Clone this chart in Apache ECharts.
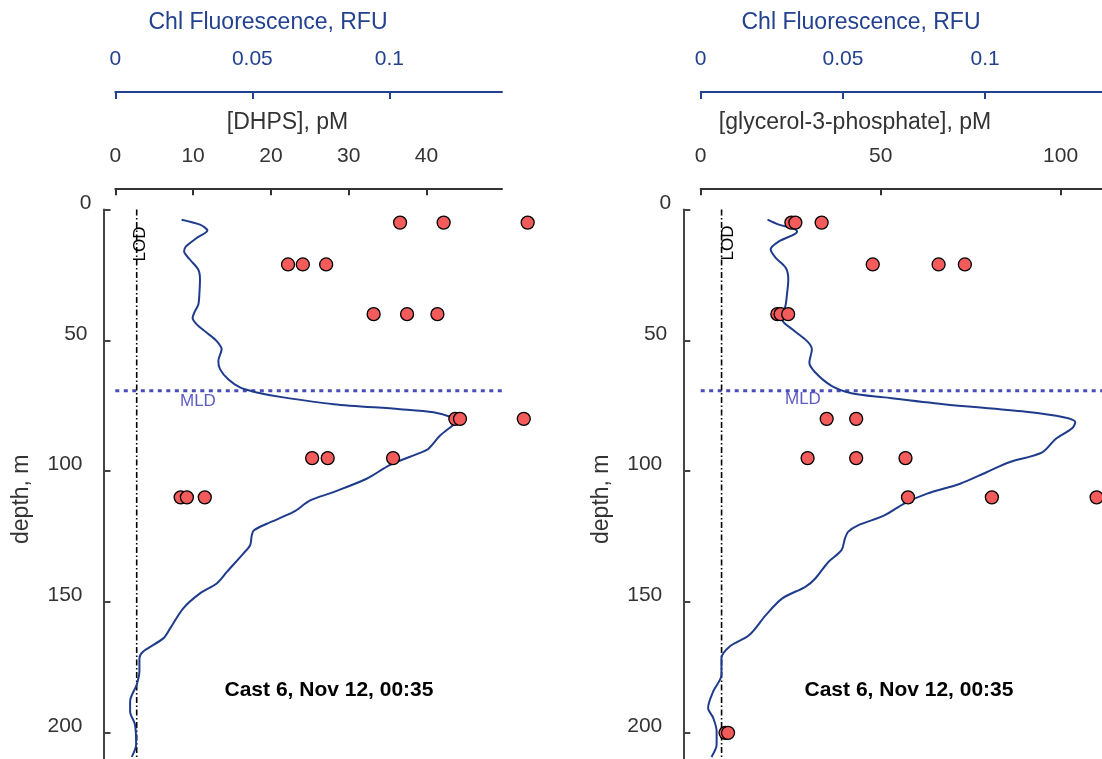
<!DOCTYPE html>
<html>
<head>
<meta charset="utf-8">
<script src="https://cdn.jsdelivr.net/npm/echarts@6/dist/echarts.min.js"></script>
<style>
  html, body { margin: 0; padding: 0; background: #fff; }
  #chart { width: 1102px; height: 759px; }
</style>
</head>
<body>
<div id="chart"></div>
<script>
// Profil de fluorescence Chl, panneau gauche
const depthChlLeft = [3.9, 5.8, 8.0, 10.9, 14.1, 16, 19.2, 23, 26.8, 31.8, 36.3, 38.8, 41.4, 43.9, 47.1, 50.3, 53.4, 57.9, 61, 64.9, 68, 69.9, 71.8, 74.4, 76.3, 77.5, 79.5, 81, 83, 86.4, 91.5, 93.0, 97.6, 102.9, 108, 111.2, 115.6, 120.1, 122.6, 124.5, 128.3, 131.5, 138.5, 142.9, 146.7, 152.4, 160.1, 163.9, 168.9, 171.5, 176.5, 181.6, 188, 191.8, 196.9, 204.5, 209.2];
const chlLeft = [0.0242, 0.0309, 0.0336, 0.0297, 0.0258, 0.0251, 0.0273, 0.0303, 0.0309, 0.0307, 0.0303, 0.0291, 0.0282, 0.0297, 0.0334, 0.0370, 0.0388, 0.0376, 0.0382, 0.0412, 0.0455, 0.0516, 0.0613, 0.0796, 0.1039, 0.1161, 0.1230, 0.1250, 0.1225, 0.1185, 0.1142, 0.1112, 0.1003, 0.0917, 0.0796, 0.0711, 0.0650, 0.0553, 0.0506, 0.0498, 0.0492, 0.0467, 0.0407, 0.0370, 0.0309, 0.0248, 0.0200, 0.0175, 0.0102, 0.0088, 0.0088, 0.0078, 0.0054, 0.0054, 0.0072, 0.0076, 0.0060];

// panneau droit
const depthChlRight = [3.9, 5.8, 7.1, 8.4, 9.6, 12.2, 15.3, 18.5, 22.3, 26.8, 31.8, 36.3, 42.0, 45.8, 50.3, 53.4, 58.5, 62.3, 67.4, 70.2, 71.8, 74.4, 77.3, 79.4, 81.3, 83.6, 87.7, 92.8, 96.6, 100.4, 104.8, 108.6, 112.4, 116.9, 120.7, 123.2, 125.8, 130.2, 134.7, 141, 144.2, 148.6, 155, 162.6, 167, 171.5, 177.8, 184.2, 190.5, 194.3, 199.4, 204.5, 209.2];
const chlRight = [0.0235, 0.0275, 0.0322, 0.0339, 0.0327, 0.0275, 0.0246, 0.0264, 0.0299, 0.0308, 0.0304, 0.0299, 0.0287, 0.0322, 0.0374, 0.0391, 0.0382, 0.0403, 0.0460, 0.0530, 0.0646, 0.0854, 0.1143, 0.1276, 0.1317, 0.1306, 0.1248, 0.1201, 0.1085, 0.1005, 0.0912, 0.0796, 0.0715, 0.0646, 0.0553, 0.0518, 0.0507, 0.0495, 0.0449, 0.0403, 0.0368, 0.0287, 0.0229, 0.0171, 0.0102, 0.0073, 0.0073, 0.0044, 0.0026, 0.0044, 0.0056, 0.0056, 0.0038];

// Mesures discretes
const dhpsDepth = [5, 5, 5, 21, 21, 21, 40, 40, 40, 80, 80, 80, 95, 95, 95, 110, 110, 110];
const dhpsConc = [36.6, 42.2, 53.0, 22.2, 24.1, 27.1, 33.2, 37.5, 41.4, 43.7, 44.3, 52.5, 25.3, 27.3, 35.7, 8.4, 9.2, 11.5];
const g3pDepth = [5, 5, 5, 21, 21, 21, 40, 40, 40, 80, 80, 95, 95, 95, 110, 110, 110, 200, 200];
const g3pConc = [25.2, 26.3, 33.6, 47.8, 66.1, 73.4, 21.3, 22.2, 24.3, 35.0, 43.2, 29.7, 43.2, 56.9, 57.6, 80.9, 110, 6.9, 7.6];

const mld = 69.3;
const lodDhps = 2.75;
const lodG3p = 5.8;
const mldEndLeft = 53;
const mldEndRight = 115;

const depthTicks = [0, 50, 100, 150, 200];
const chlTicks = [0, 0.05, 0.1];
const dhpsTicks = [0, 10, 20, 30, 40];
const g3pTicks = [0, 50, 100];

const castLabel = 'Cast 6, Nov 12, 00:35';

const BLUE = '#22418f';
const GRAY = '#333333';
const AXIS = '#444444';
const FONT = '"Liberation Sans", Arial, sans-serif';

const zip = (xs, ys) => xs.map((x, i) => [x, ys[i]]);

function topAxis(grid, offset, max, ticks, color) {
    return {
        type: 'value', gridIndex: grid, position: 'top', offset: offset,
        min: 0, max: max,
        axisLine: { show: true, onZero: false, lineStyle: { color: color, width: 2 } },
        axisTick: { show: true, inside: true, length: 7, customValues: ticks, lineStyle: { color: color, width: 2 } },
        axisLabel: { customValues: ticks, margin: 22, color: color, fontSize: 21, fontFamily: FONT },
        splitLine: { show: false }
    };
}

// les etiquettes de profondeur ne sont pas alignees pareil selon leur longueur
const depthRich = (pr) => ({ padding: [0, pr, 13, 0], color: GRAY, fontSize: 21, fontFamily: FONT });

function depthAxis(grid, offset) {
    return {
        type: 'value', gridIndex: grid, inverse: true, min: 0, max: 210, offset: offset,
        name: 'depth, m', nameLocation: 'middle', nameGap: 70, nameRotate: 90,
        nameTextStyle: { color: GRAY, fontSize: 23, fontFamily: FONT, padding: [0, 30, 0, 0] },
        axisLine: { show: true, onZero: false, lineStyle: { color: AXIS, width: 2 } },
        axisTick: { show: true, inside: true, length: 7, customValues: depthTicks, lineStyle: { color: AXIS, width: 2 } },
        axisLabel: {
            customValues: depthTicks, margin: 12, color: GRAY, fontSize: 21, fontFamily: FONT,
            formatter: (v) => {
                const s = String(v);
                return '{' + ['a', 'a', 'b', 'c'][s.length] + '|' + s + '}';
            },
            rich: { a: depthRich(0), b: depthRich(4), c: depthRich(9) }
        },
        splitLine: { show: false }
    };
}

function panelSeries(xConc, xChl, y, chl, conc, lod, mldEnd) {
    return [
        {
            type: 'line', xAxisIndex: xConc, yAxisIndex: y, silent: true, symbol: 'none', z: 2,
            data: [[0, mld], [mldEnd, mld]],
            lineStyle: { color: '#4b4bb9', width: 3, type: [4, 4.5] }
        },
        {
            type: 'line', xAxisIndex: xConc, yAxisIndex: y, silent: true, symbol: 'none', z: 2,
            data: [[lod, 0], [lod, 210]],
            lineStyle: { color: '#000', width: 1.6, type: [6, 2.5, 1.5, 2.5] }
        },
        {
            type: 'line', xAxisIndex: xChl, yAxisIndex: y, symbol: 'none', smooth: 0.3, z: 3,
            data: chl,
            lineStyle: { color: '#1f3c8c', width: 2 }
        },
        {
            type: 'scatter', xAxisIndex: xConc, yAxisIndex: y, clip: false, z: 4,
            symbolSize: 13, data: conc,
            itemStyle: { color: '#f45b5b', borderColor: '#000', borderWidth: 1.3, opacity: 1 }
        }
    ];
}

function label(text, x, y, opts) {
    return {
        type: 'text', x: x, y: y, rotation: opts.rotation || 0, z: 10,
        style: {
            text: text, fill: opts.color || GRAY, align: opts.align || 'center', verticalAlign: 'middle',
            font: (opts.weight || 'normal') + ' ' + opts.size + 'px ' + FONT
        }
    };
}

const chart = echarts.init(document.getElementById('chart'));

chart.setOption({
    animation: false,
    backgroundColor: '#fff',
    grid: [
        { left: 115.3, top: 209.5, width: 386.7, height: 551.5 },
        { left: 700.7, top: 209.5, width: 406.4, height: 551.5 }
    ],
    xAxis: [
        topAxis(0, 21.2, 49.7, dhpsTicks, GRAY),
        topAxis(0, 117.5, 0.1411, chlTicks, BLUE),
        topAxis(1, 21.2, 111.5, g3pTicks, GRAY),
        topAxis(1, 117.5, 0.1411, chlTicks, BLUE)
    ],
    yAxis: [
        depthAxis(0, 11.8),
        depthAxis(1, 17.4)
    ],
    series: [
        ...panelSeries(0, 1, 0, zip(chlLeft, depthChlLeft), zip(dhpsConc, dhpsDepth), lodDhps, mldEndLeft),
        ...panelSeries(2, 3, 1, zip(chlRight, depthChlRight), zip(g3pConc, g3pDepth), lodG3p, mldEndRight)
    ],
    graphic: [
        label('Chl Fluorescence, RFU', 268, 23, { size: 23, color: BLUE }),
        label('[DHPS], pM', 287.5, 123, { size: 23 }),
        label('Chl Fluorescence, RFU', 861, 23, { size: 23, color: BLUE }),
        label('[glycerol-3-phosphate], pM', 855, 123, { size: 23 }),
        label('MLD', 180, 401, { size: 17, color: '#5c5cc4', align: 'left' }),
        label('MLD', 785, 399, { size: 17, color: '#5c5cc4', align: 'left' }),
        label('LOD', 140, 244, { size: 17, color: '#000', rotation: Math.PI / 2 }),
        label('LOD', 728, 243, { size: 17, color: '#000', rotation: Math.PI / 2 }),
        label(castLabel, 329, 690, { size: 21, color: '#000', weight: 'bold' }),
        label(castLabel, 909, 690, { size: 21, color: '#000', weight: 'bold' })
    ]
});
</script>
</body>
</html>
